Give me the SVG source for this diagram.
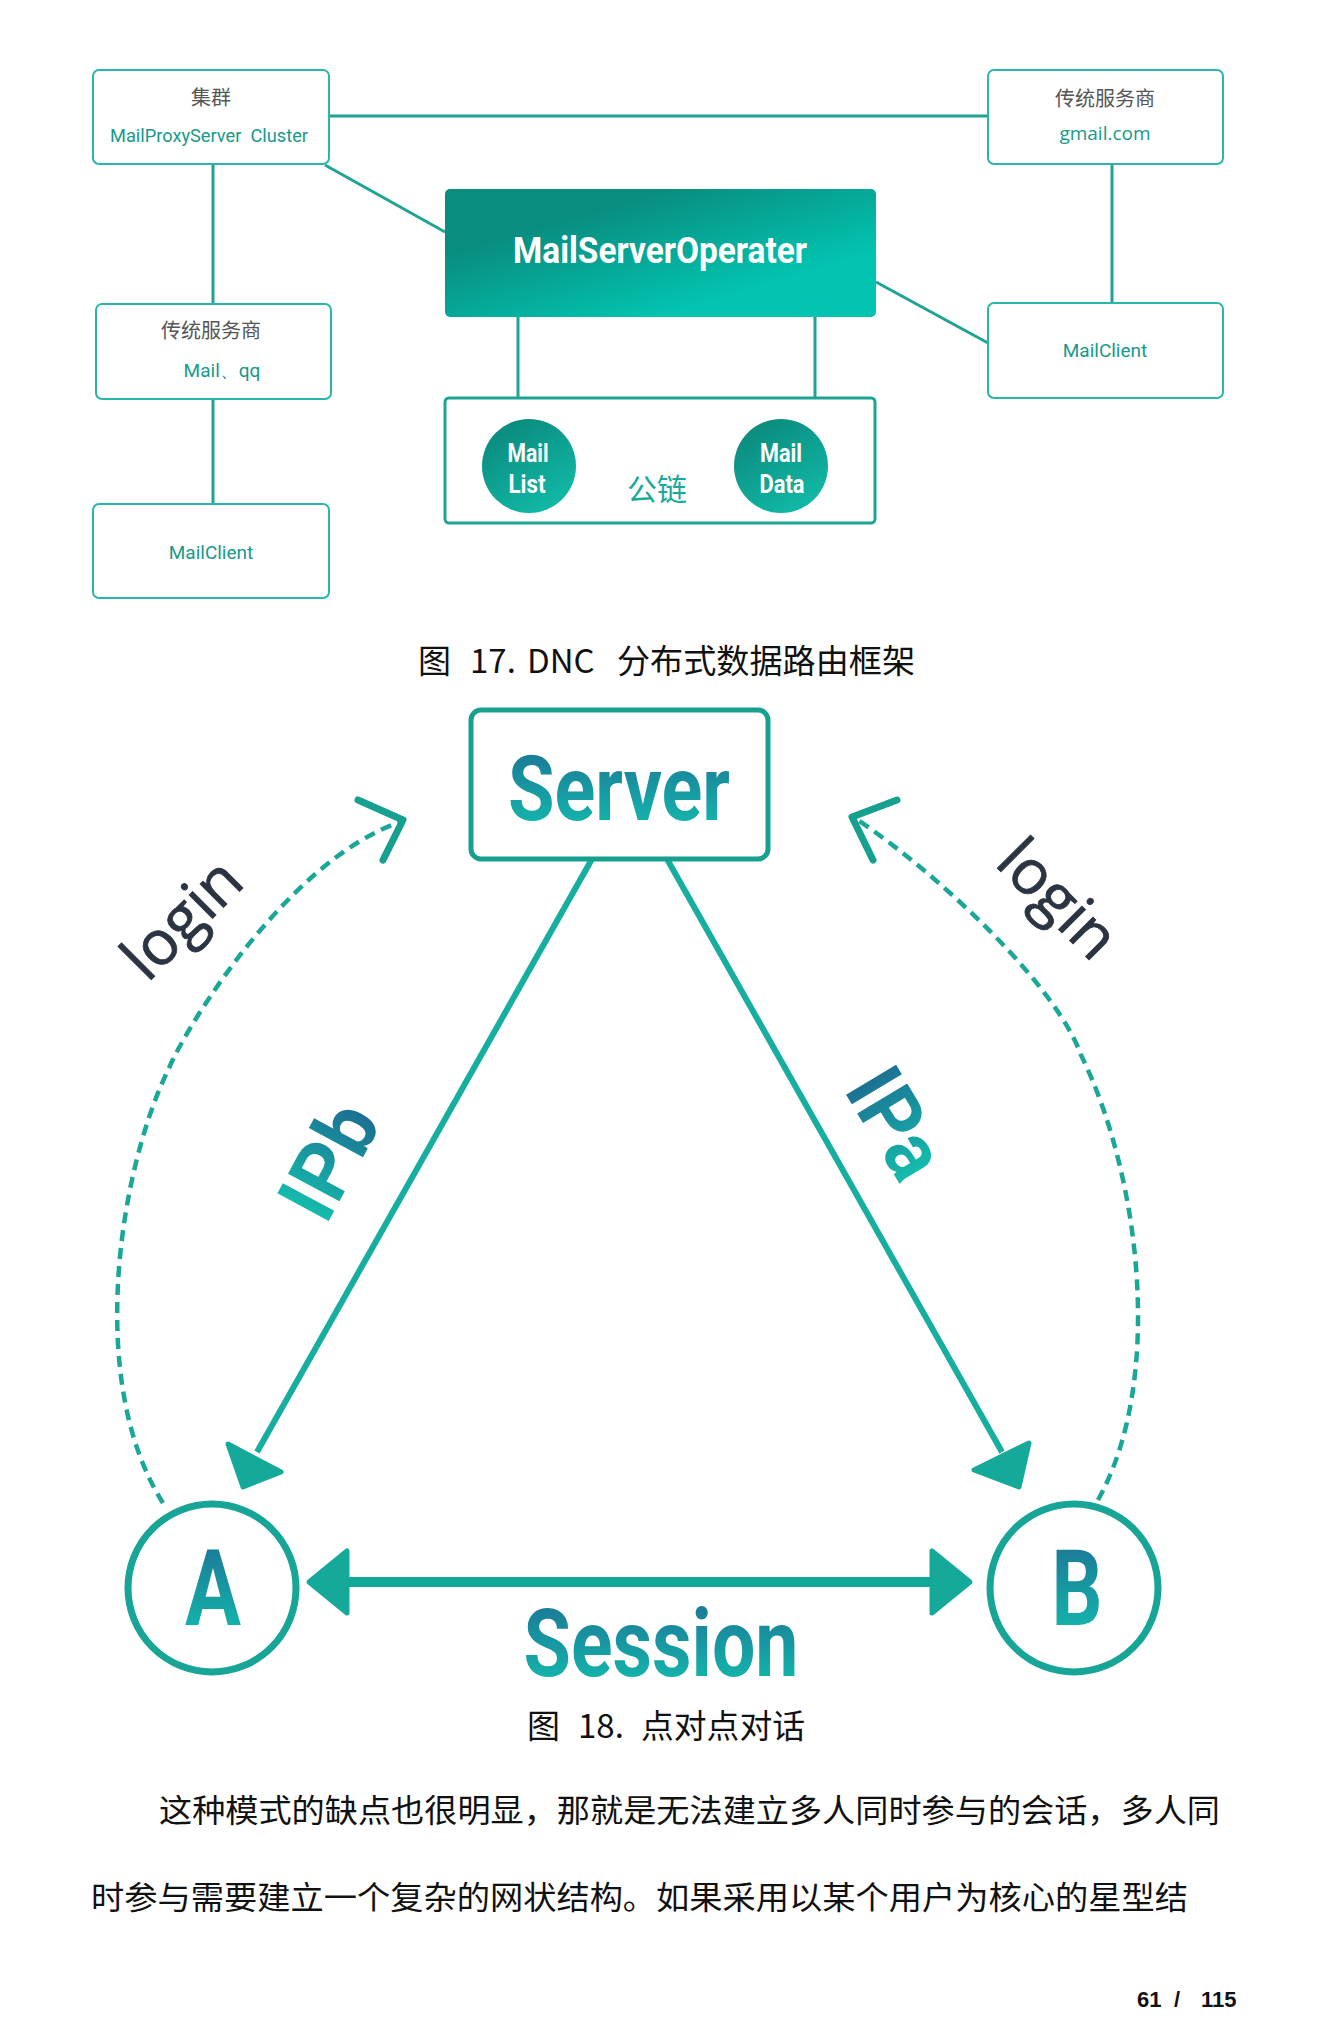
<svg xmlns="http://www.w3.org/2000/svg" width="1332" height="2041" viewBox="0 0 1332 2041">
<style>
.box{fill:#fff;stroke:#2ab6aa;stroke-width:2}
.conn{stroke:#1ea394;stroke-width:3;fill:none}
.zh{font-family:"Noto Sans CJK SC",sans-serif;fill:#555;font-size:20px;text-anchor:middle}
.en{font-family:Roboto,"Noto Sans",sans-serif;fill:#17998b;font-size:19px;text-anchor:middle}
.cap{font-family:"Noto Sans CJK SC",sans-serif;fill:#111;font-size:33px}
.para{font-family:"Noto Sans CJK SC",sans-serif;fill:#111;font-size:32px}
.big{font-family:Roboto,"Liberation Sans",sans-serif;font-weight:bold;text-anchor:middle}
.login{font-family:"Open Sans","Noto Sans",sans-serif;fill:#2b3442;font-size:62px;text-anchor:middle;stroke:#2b3442;stroke-width:0.8}
.dash{fill:none;stroke:#1aa797;stroke-width:4.5;stroke-dasharray:11 7}
.chev{fill:none;stroke:#15a090;stroke-width:7;stroke-linecap:round;stroke-linejoin:round}
.edge{stroke:#16ae9e;stroke-width:6;fill:none}
.head{fill:#14a999;stroke:#14a999;stroke-width:5;stroke-linejoin:round}
.ring{fill:#fff;stroke:#16a596;stroke-width:7}
</style>
<defs>
<linearGradient id="gMso" x1="0" y1="0" x2="1" y2="1">
<stop offset="0.25" stop-color="#098d7f"/>
<stop offset="0.75" stop-color="#02c4b1"/>
</linearGradient>
<linearGradient id="gCirc" x1="0.2" y1="0" x2="0.8" y2="1">
<stop offset="0" stop-color="#0a887b"/>
<stop offset="1" stop-color="#12bca9"/>
</linearGradient>
<linearGradient id="gV" x1="0" y1="0" x2="0" y2="1">
<stop offset="0" stop-color="#1d6d93"/>
<stop offset="1" stop-color="#12c3b0"/>
</linearGradient>
<linearGradient id="gLD" x1="0" y1="0" x2="1" y2="0">
<stop offset="0" stop-color="#14bfad"/>
<stop offset="1" stop-color="#1c6d92"/>
</linearGradient>
<linearGradient id="gDL" x1="0" y1="0" x2="1" y2="0">
<stop offset="0" stop-color="#1c6d92"/>
<stop offset="1" stop-color="#14bfad"/>
</linearGradient>
</defs>

<g id="connectors-top">
<line class="conn" x1="329" y1="116" x2="988" y2="116"/>
<line class="conn" x1="213" y1="164" x2="213" y2="304"/>
<line class="conn" x1="213" y1="399" x2="213" y2="504"/>
<line class="conn" x1="325" y1="165" x2="445" y2="232"/>
<line class="conn" x1="1112" y1="164" x2="1112" y2="303"/>
<line class="conn" x1="876" y1="282" x2="988" y2="343"/>
<line class="conn" x1="518" y1="317" x2="518" y2="398"/>
<line class="conn" x1="815" y1="317" x2="815" y2="398"/>
</g>

<g id="cluster">
<rect class="box" x="93" y="70" width="236" height="94" rx="6"/>
<text class="zh" x="211" y="105" font-size="19">集群</text>
<text class="en" x="209" y="142" textLength="198" lengthAdjust="spacingAndGlyphs" xml:space="preserve">MailProxyServer  Cluster</text>
</g>
<g id="provider-left">
<rect class="box" x="96" y="304" width="235" height="95" rx="6"/>
<text class="zh" x="211" y="338">传统服务商</text>
<text class="en" x="222" y="377" font-size="20">Mail、qq</text>
</g>
<g id="client-left">
<rect class="box" x="93" y="504" width="236" height="94" rx="6"/>
<text class="en" x="211" y="559">MailClient</text>
</g>
<g id="provider-right">
<rect class="box" x="988" y="70" width="235" height="94" rx="6"/>
<text class="zh" x="1105" y="106">传统服务商</text>
<text class="en" x="1105" y="140" font-size="22" style="font-family:'Open Sans','Noto Sans',sans-serif" fill="#1aa99a">gmail.com</text>
</g>
<g id="client-right">
<rect class="box" x="988" y="303" width="235" height="95" rx="6"/>
<text class="en" x="1105" y="357">MailClient</text>
</g>
<g id="operator">
<rect x="445" y="189" width="431" height="128" rx="5" fill="url(#gMso)"/>
<text class="big" x="660" y="263" font-size="36" fill="#fff" textLength="294" lengthAdjust="spacingAndGlyphs">MailServerOperater</text>
</g>
<g id="chain">
<rect x="445" y="398" width="430" height="125" rx="4" fill="#fff" stroke="#1ea394" stroke-width="3"/>
<g id="maillist">
<circle cx="529" cy="466" r="47" fill="url(#gCirc)"/>
<text class="big" x="528" y="462" font-size="26" fill="#fff" textLength="41" lengthAdjust="spacingAndGlyphs">Mail</text>
<text class="big" x="527" y="493" font-size="26" fill="#fff" textLength="37" lengthAdjust="spacingAndGlyphs">List</text>
</g>
<g id="maildata">
<circle cx="781" cy="466" r="47" fill="url(#gCirc)"/>
<text class="big" x="781" y="462" font-size="26" fill="#fff" textLength="42" lengthAdjust="spacingAndGlyphs">Mail</text>
<text class="big" x="782" y="493" font-size="26" fill="#fff" textLength="45" lengthAdjust="spacingAndGlyphs">Data</text>
</g>
<text x="657" y="500" font-family="Noto Sans CJK SC, sans-serif" font-size="30" fill="#1aa99a" text-anchor="middle">公链</text>
</g>

<text class="cap" y="673"><tspan x="418">图</tspan><tspan x="470">17.</tspan><tspan x="527">DNC</tspan><tspan x="617" textLength="298" lengthAdjust="spacingAndGlyphs">分布式数据路由框架</tspan></text>

<g id="connectors-bottom">
<line class="edge" x1="592" y1="859" x2="257" y2="1452"/>
<polygon class="head" points="228,1444 281,1472 243,1487"/>
<line class="edge" x1="667" y1="859" x2="1002" y2="1452"/>
<polygon class="head" points="974,1470 1029,1443 1019,1487"/>
<path class="dash" d="M163,1503 C85,1380 120,1168 169,1068 C190,1020 290,860 400,822"/>
<polyline class="chev" points="358,800 403,820 383,860"/>
<path class="dash" d="M1098,1500 C1165,1380 1140,1175 1081,1055 C1056,985 940,875 855,818"/>
<polyline class="chev" points="897,800 852,817 873,860"/>
<line x1="340" y1="1582" x2="940" y2="1582" stroke="#11a898" stroke-width="10"/>
<polygon class="head" points="309,1582 347,1551 347,1613"/>
<polygon class="head" points="970,1582 932,1551 932,1613"/>
<text class="login" transform="translate(197,934) rotate(-45)">login</text>
<text class="login" transform="translate(1043,914) rotate(45)">login</text>
<text class="big" font-size="82" fill="url(#gLD)" textLength="118" lengthAdjust="spacingAndGlyphs" transform="translate(354,1174) rotate(-61.7)">IPb</text>
<text class="big" font-size="82" fill="url(#gDL)" textLength="112" lengthAdjust="spacingAndGlyphs" transform="translate(872,1138) rotate(59)">IPa</text>
<text class="big" x="661" y="1676" font-size="95" fill="url(#gV)" textLength="275" lengthAdjust="spacingAndGlyphs">Session</text>
</g>

<g id="server">
<rect x="471" y="710" width="297" height="149" rx="10" fill="#fff" stroke="#17a090" stroke-width="5"/>
<text class="big" x="619" y="820" font-size="91" fill="url(#gV)" textLength="222" lengthAdjust="spacingAndGlyphs">Server</text>
</g>
<g id="nodeA">
<circle class="ring" cx="212" cy="1588" r="84"/>
<text class="big" x="213" y="1625" font-size="106" fill="url(#gV)" textLength="56" lengthAdjust="spacingAndGlyphs">A</text>
</g>
<g id="nodeB">
<circle class="ring" cx="1074" cy="1588" r="84"/>
<text class="big" x="1077" y="1625" font-size="106" fill="url(#gV)" textLength="51" lengthAdjust="spacingAndGlyphs">B</text>
</g>

<text class="cap" y="1738" font-size="32"><tspan x="527">图</tspan><tspan x="578">18.</tspan><tspan x="641" textLength="164" lengthAdjust="spacingAndGlyphs">点对点对话</tspan></text>

<text class="para" x="159" y="1822" textLength="1061" lengthAdjust="spacingAndGlyphs">这种模式的缺点也很明显，那就是无法建立多人同时参与的会话，多人同</text>
<text class="para" x="91" y="1909" textLength="1097" lengthAdjust="spacingAndGlyphs">时参与需要建立一个复杂的网状结构。如果采用以某个用户为核心的星型结</text>
<text font-family="Liberation Sans, sans-serif" font-weight="bold" font-size="22" fill="#111" y="2007"><tspan x="1137">61</tspan><tspan x="1174">/</tspan><tspan x="1201">115</tspan></text>
</svg>
